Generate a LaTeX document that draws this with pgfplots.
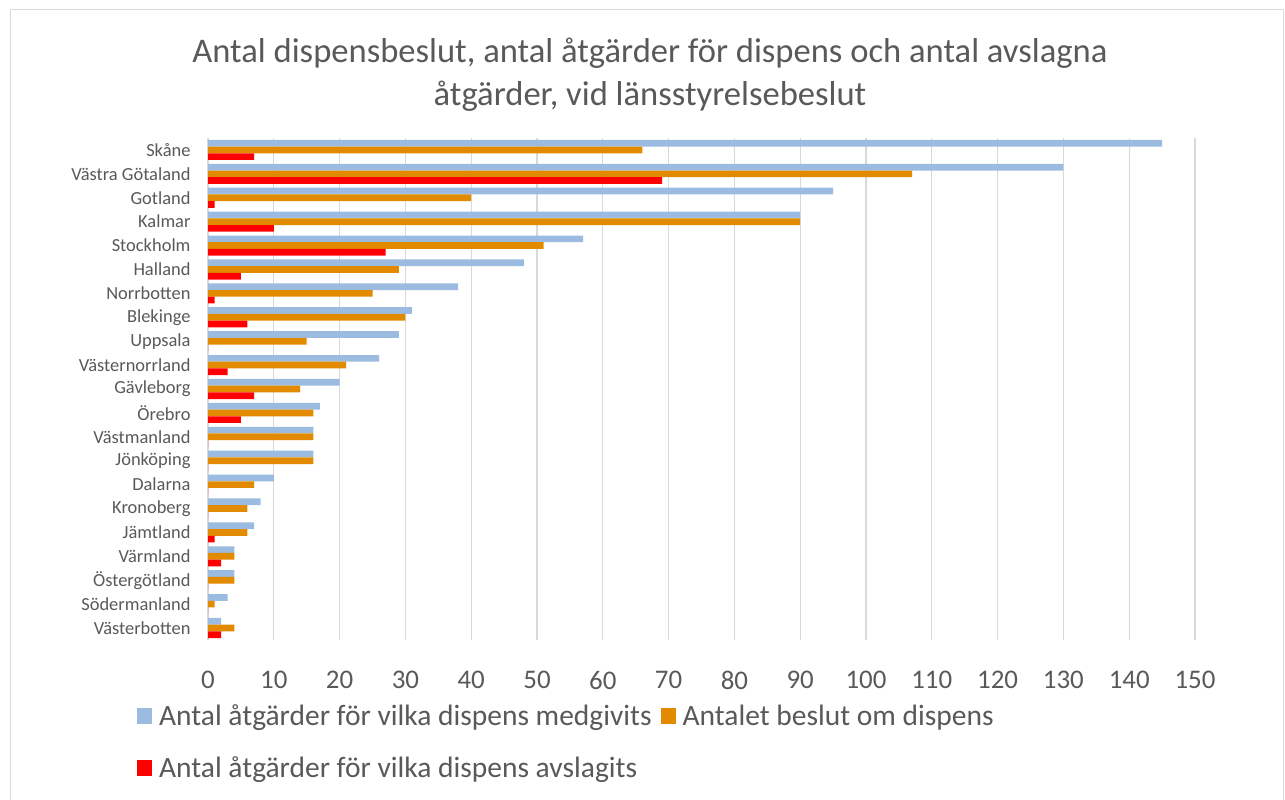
\documentclass[border=0pt]{standalone}
\usepackage{fontspec}
\setmainfont{Carlito}
\usepackage{pgfplots}
\usepackage{pgfplotstable}
\pgfplotsset{compat=1.18}
\definecolor{cblue}{HTML}{9BBBE0}
\definecolor{corange}{HTML}{E38B00}
\definecolor{cred}{HTML}{FF0000}
\definecolor{ctext}{HTML}{595959}
\definecolor{cgrid}{HTML}{D9D9D9}
\definecolor{cframe}{HTML}{D9D9D9}

\pgfplotstableread{
y blue orange red
20 145 66 7
19 130 107 69
18 95 40 1
17 90 90 10
16 57 51 27
15 48 29 5
14 38 25 1
13 31 30 6
12 29 15 0
11 26 21 3
10 20 14 7
9 17 16 5
8 16 16 0
7 16 16 0
6 10 7 0
5 8 6 0
4 7 6 1
3 4 4 2
2 4 4 0
1 3 1 0
0 2 4 2
}\datatable

\begin{document}
\begin{tikzpicture}
\useasboundingbox (0,0) rectangle (1285bp,800bp);
\draw[cframe, line width=1bp] (10bp,-10bp) -- (10bp,790bp) -- (1283bp,790bp) -- (1283bp,-10bp);
\node[font=\fontsize{34.7}{43}\selectfont, text=ctext, align=center] at (650bp,725bp)
  {Antal dispensbeslut, antal åtgärder för dispens och antal avslagna\\åtgärder, vid länsstyrelsebeslut};
\begin{axis}[
  at={(208bp,160bp)}, anchor=south west,
  scale only axis, width=987bp, height=502bp,
  xbar, bar width=6.7bp,
  xmin=0, xmax=150, ymin=-0.5, ymax=20.5,
  xtick={0,10,...,150}, ytick={0,...,20},
  yticklabels={Västerbotten,Södermanland,Östergötland,Värmland,Jämtland,Kronoberg,Dalarna,Jönköping,Västmanland,Örebro,Gävleborg,Västernorrland,Uppsala,Blekinge,Norrbotten,Halland,Stockholm,Kalmar,Gotland,Västra Götaland,Skåne},
  axis lines*=left,
  x axis line style={draw=none},
  y axis line style={draw=cgrid, line width=1.5bp},
  major tick length=0pt,
  xmajorgrids, grid style={cgrid, line width=1.2bp},
  /pgf/number format/assume math mode=true,
  xticklabel style={font=\fontsize{27}{32}\selectfont, text=ctext, yshift=-28bp},
  yticklabel style={font=\fontsize{18.5}{22}\selectfont, text=ctext, xshift=-14bp},
  legend style={at={(-0.075,-0.120)}, anchor=north west, draw=none, fill=none,
    font=\fontsize{29.6}{35}\selectfont, text=ctext,
    legend columns=2, row sep=26bp,
    /tikz/every odd column/.append style={column sep=5bp},
    /tikz/every even column/.append style={column sep=7bp},
    legend cell align=left},
  legend image code/.code={\fill[#1,draw=none] (0bp,-8bp) rectangle (15bp,8bp);},
]
\addplot[fill=cblue, draw=none, bar shift=6.7bp] table[x=blue, y=y] {\datatable};
\addplot[fill=corange, draw=none, bar shift=0bp] table[x=orange, y=y] {\datatable};
\addplot[fill=cred, draw=none, bar shift=-6.7bp] table[x=red, y=y] {\datatable};
\legend{Antal åtgärder för vilka dispens medgivits, Antalet beslut om dispens, Antal åtgärder för vilka dispens avslagits}
\end{axis}
\end{tikzpicture}
\end{document}
